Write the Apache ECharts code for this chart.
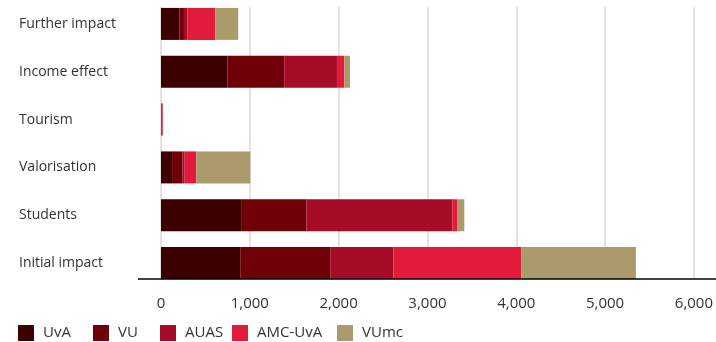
<!DOCTYPE html>
<html>
<head>
<meta charset="utf-8">
<script src="https://cdn.jsdelivr.net/npm/echarts@6/dist/echarts.min.js"></script>
<style>
  html, body { margin: 0; padding: 0; background: #fff; }
  #chart { width: 716px; height: 342px; }
</style>
</head>
<body>
<div id="chart"></div>
<script>
// Economic impact by category, stacked per institution
const categories = ['Initial impact', 'Students', 'Valorisation', 'Tourism', 'Income effect', 'Further impact'];
const uva    = [890, 900, 124, 4, 745, 206];
const vu     = [1011, 734, 116, 4, 640, 52];
const auas   = [711, 1640, 26, 8, 592, 41];
const amcUva = [1435, 52, 131, 6, 82, 311];
const vumc   = [1289, 82, 607, 2, 64, 258];
const tickValues = [0, 1000, 2000, 3000, 4000, 5000, 6000];

const seriesDefs = [
  { name: 'UvA',     data: uva,    color: '#3d0000' },
  { name: 'VU',      data: vu,     color: '#6f0008' },
  { name: 'AUAS',    data: auas,   color: '#a60b27' },
  { name: 'AMC-UvA', data: amcUva, color: '#e31b3a' },
  { name: 'VUmc',    data: vumc,   color: '#aa9a6c' }
];

// left offset of each legend entry
const legendLefts = [18, 93, 160, 232, 337];

const FONT = '"Open Sans", "Liberation Sans", sans-serif';
const TEXT = '#333333';
const xMin = tickValues[0];
const xMax = tickValues[tickValues.length - 1];
const step = tickValues[1] - tickValues[0];

const chart = echarts.init(document.getElementById('chart'), null, { renderer: 'canvas' });

chart.setOption({
  animation: false,
  grid: [
    // bars
    { left: 161, right: 21, top: -1, bottom: 55 },
    // gridlines and value labels, spanning bar tops to bar bottoms
    { left: 161, right: 21, top: 7, bottom: 63 }
  ],
  legend: seriesDefs.map((s, i) => ({
    left: legendLefts[i],
    top: 325,
    padding: 0,
    itemWidth: 16,
    itemHeight: 16,
    icon: 'rect',
    selectedMode: false,
    textStyle: { fontFamily: FONT, fontSize: 15, color: TEXT, padding: [0, 0, 0, 4] },
    data: [s.name]
  })),
  xAxis: [
    {
      gridIndex: 0, type: 'value', min: xMin, max: xMax, interval: step,
      show: false
    },
    {
      gridIndex: 1, type: 'value', min: xMin, max: xMax, interval: step,
      axisLine: { show: false },
      axisTick: { show: false },
      splitLine: { show: true, lineStyle: { color: '#e3e3e3', width: 2 } },
      axisLabel: {
        margin: 17,
        fontFamily: FONT, fontSize: 15, color: TEXT,
        formatter: v => v.toLocaleString('en-US')
      }
    }
  ],
  yAxis: [
    {
      gridIndex: 0, type: 'category', data: categories,
      axisLine: { show: false },
      axisTick: { show: false },
      splitLine: { show: false },
      axisLabel: {
        align: 'left', margin: 142,
        fontFamily: FONT, fontSize: 14, color: TEXT
      }
    },
    {
      gridIndex: 1, type: 'category', data: categories,
      show: false
    }
  ],
  series: seriesDefs.map(s => ({
    name: s.name,
    type: 'bar',
    stack: 'total',
    xAxisIndex: 0,
    yAxisIndex: 0,
    barWidth: 32,
    itemStyle: { color: s.color },
    data: s.data,
    z: 3
  })),
  graphic: [
    {
      type: 'line',
      z: 10,
      shape: { x1: 138, y1: 279, x2: 716, y2: 279 },
      style: { stroke: '#000', lineWidth: 1.5 }
    }
  ]
});
</script>
</body>
</html>
